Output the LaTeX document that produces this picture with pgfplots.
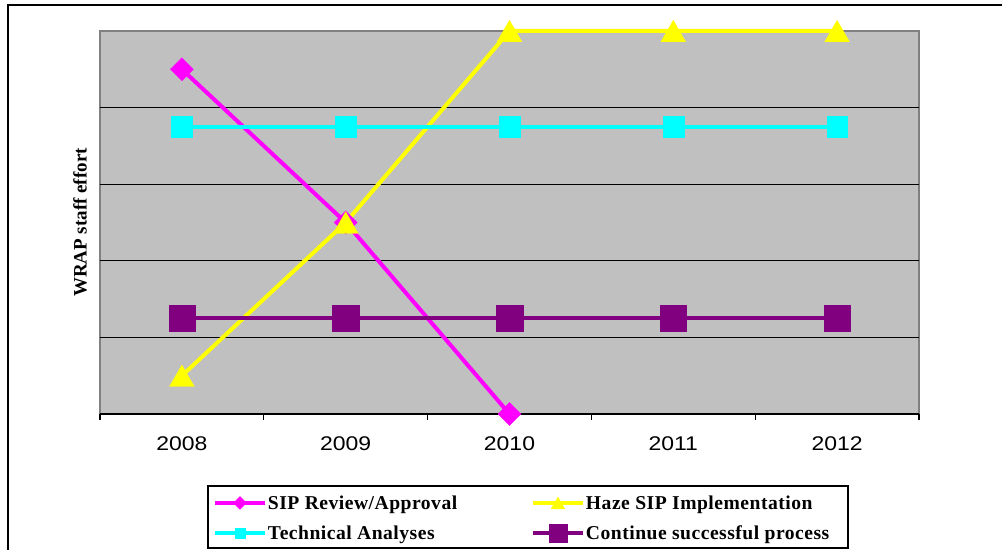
\documentclass[border=0pt]{standalone}
\usepackage{fontspec}
\setmainfont{Liberation Serif}
\newfontfamily\arial{Liberation Sans}
\newfontfamily\legfont[LetterSpace=2.5]{Liberation Serif}
\usepackage{graphicx}
\usepackage{pgfplots}
\pgfplotsset{compat=1.18}
\definecolor{bggray}{HTML}{C0C0C0}
\definecolor{bordergray}{HTML}{808080}
\definecolor{mag}{HTML}{FF00FF}
\definecolor{yel}{HTML}{FFFF00}
\definecolor{cya}{HTML}{00FFFF}
\definecolor{pur}{HTML}{800080}
\begin{document}
\begin{tikzpicture}
\draw[line width=1pt] (4pt,-10pt) -- (4pt,272.5pt) -- (520pt,272.5pt);
\begin{axis}[
  at={(50pt,68pt)}, anchor=south west, scale only axis,
  width=409.5pt, height=191.5pt,
  xmin=-0.5, xmax=4.5, ymin=0, ymax=5,
  clip=false,
  axis background/.style={fill=bggray, draw=bordergray, line width=0.75pt},
  axis line style={draw=none},
  xtick={0,...,4},
  xticklabels={\scalebox{1.16}[1]{2008},\scalebox{1.16}[1]{2009},\scalebox{1.16}[1]{2010},\scalebox{1.16}[1]{2011},\scalebox{1.16}[1]{2012}},
  minor xtick={-0.5,0.5,...,4.5},
  ytick={1,2,3,4}, yticklabels={},
  ymajorgrids, major grid style={black, line width=0.5pt},
  major tick length=0pt, minor tick length=3pt, tick align=outside,
  xtick pos=left, ytick pos=left,
  minor x tick style={black, line width=0.6pt},
  xticklabel style={font=\arial\fontsize{9.9}{11}\selectfont, anchor=center, yshift=-15pt},
  ylabel={WRAP staff effort},
  ylabel style={font=\bfseries\fontsize{9.5}{10}\selectfont, at={(axis description cs:0,0.5)}, anchor=center, yshift=10pt},
  legend image code/.code={
    \path[draw=none, fill=none] (0pt,-4.25pt) rectangle (30pt,10.75pt);
    \draw[mark repeat=2,mark phase=2,#1] plot coordinates {(3.5pt,3.25pt) (16pt,3.25pt) (28.5pt,3.25pt)};
  },
  legend columns=2,
  legend style={at={(axis description cs:0.13187,-0.18799)}, anchor=north west,
    draw=black, line width=0.6pt, fill=white, inner sep=0pt, outer sep=0pt,
    column sep=0pt, row sep=0pt,
    nodes={inner sep=0pt, outer sep=0pt, anchor=base west},
    cells={anchor=base west, inner sep=0pt, outer sep=0pt},
    font=\legfont\bfseries\fontsize{9.8}{11}\selectfont},
]
\draw[black, line width=0.6pt] (rel axis cs:0,0) -- (rel axis cs:1,0);
\addplot[forget plot, mag, line width=2pt, mark=square*, mark size=4.1pt,
  mark options={rotate=45, fill=mag, line width=0.1pt}]
  coordinates {(0,4.5) (1,2.5) (2,0)};
\addplot[forget plot, yel, line width=2pt, mark=triangle*, mark size=7.2pt,
  mark options={yshift=-1.8pt, fill=yel, line width=0.1pt}]
  coordinates {(0,0.5) (1,2.5) (2,5) (3,5) (4,5)};
\addplot[forget plot, cya, line width=2pt, mark=square*, mark size=5.2pt,
  mark options={fill=cya, line width=0.1pt}]
  coordinates {(0,3.75) (1,3.75) (2,3.75) (3,3.75) (4,3.75)};
\addplot[forget plot, pur, line width=2pt, mark=square*, mark size=6.6pt,
  mark options={fill=pur, line width=0.1pt}]
  coordinates {(0,1.25) (1,1.25) (2,1.25) (3,1.25) (4,1.25)};
\addlegendimage{mag, line width=2pt, mark=square*, mark size=2.3pt, mark options={rotate=45, fill=mag, line width=0.1pt}}
\addlegendentry{\makebox[129pt][l]{\rule[-4.25pt]{0pt}{16pt}SIP Review/Approval}}
\addlegendimage{yel, line width=2pt, mark=triangle*, mark size=4pt, mark options={yshift=-1pt, fill=yel, line width=0.1pt}}
\addlegendentry{\makebox[131pt][l]{\rule[-4.25pt]{0pt}{16pt}Haze SIP Implementation}}
\addlegendimage{cya, line width=2pt, mark=square*, mark size=2.5pt, mark options={fill=cya, line width=0.1pt}}
\addlegendentry{\makebox[129pt][l]{\rule[-15pt]{0pt}{25.75pt}Technical Analyses}}
\addlegendimage{pur, line width=2pt, mark=square*, mark size=4.5pt, mark options={fill=pur, line width=0.1pt}}
\addlegendentry{\makebox[131pt][l]{\rule[-15pt]{0pt}{25.75pt}Continue successful process}}
\end{axis}
\pgfresetboundingbox
\path[use as bounding box] (0,0) rectangle (501pt,275pt);
\end{tikzpicture}
\end{document}
